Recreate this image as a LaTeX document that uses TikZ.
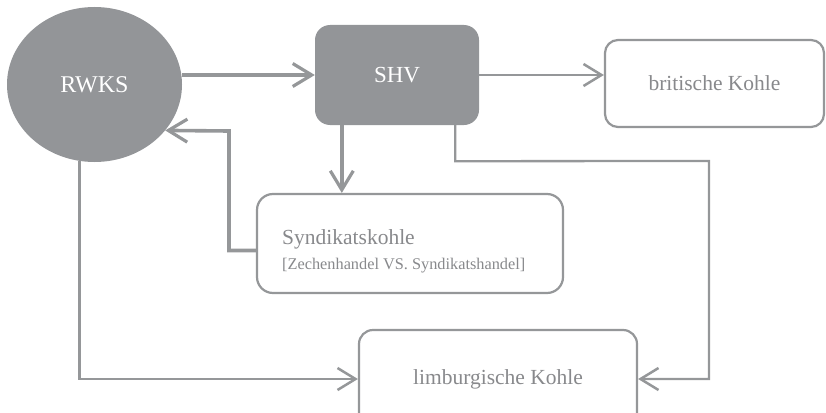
\documentclass[tikz,border=0pt]{standalone}
\usepackage{fontspec}
\setmainfont{Liberation Serif}
\usetikzlibrary{arrows.meta,shapes.geometric,calc}
\definecolor{gfill}{HTML}{939598}
\definecolor{gline}{HTML}{959799}
\definecolor{gtext}{HTML}{88898C}
\tikzset{
  darkell/.style={ellipse,fill=gfill,draw=none,minimum width=175pt,minimum height=155pt,inner sep=0pt,text=white,font=\fontsize{24}{28}\selectfont},
  darkbox/.style={rectangle,rounded corners=15pt,fill=gfill,draw=none,inner sep=0pt,text=white,font=\fontsize{23}{27}\selectfont},
  whitebox/.style={rectangle,rounded corners=14pt,draw=gline,line width=2.2pt,fill=white,inner sep=0pt,text=gtext,font=\fontsize{21.5}{25}\selectfont},
  thick conn/.style={draw=gline,line width=3.6pt,-{Straight Barb[length=19pt,width=23pt,line width=3.2pt]}},
  thin conn/.style={draw=gline,line width=2.3pt,-{Straight Barb[length=18pt,width=22pt,line width=2.5pt]}},
  plaintext/.style={inner sep=0pt,text=gtext}
}
\begin{document}
\begin{tikzpicture}[x=1pt,y=-1pt]
\useasboundingbox (0,0) rectangle (826,412);
\node[darkell] (rwks) at (94.5,84.5) {RWKS};
\node[darkbox,minimum width=164pt,minimum height=100pt] (shv) at (397,75) {SHV};
\node[whitebox,minimum width=219pt,minimum height=87pt,rounded corners=13pt] (brit) at (714.5,83.5) {britische Kohle};
\node[whitebox,minimum width=306pt,minimum height=99pt,rounded corners=16pt] (synd) at (410,243.5) {};
\node[plaintext,anchor=base west,font=\fontsize{21.5}{25}\selectfont] (syndA) at (282,244) {Syndikatskohle};
\node[plaintext,anchor=base west,font=\fontsize{16.3}{19}\selectfont] (syndB) at (282,269) {[Zechenhandel VS.\ Syndikatshandel]};
\node[whitebox,minimum width=278pt,minimum height=98pt] (limb) at (498,379) {limburgische Kohle};
% connectors
\draw[thick conn] (shv.west -| rwks.east) -- (shv.west);
\draw[thin conn,line width=2.6pt] (shv.east) -- (shv.east -| brit.west);
\coordinate (shvA) at ($(shv.south west)+(27,0)$);
\draw[thick conn] (shvA) -- (shvA |- synd.north);
\coordinate (syndL) at ($(synd.west)+(0,7)$);
\draw[thick conn] (syndL) -- (229,250.5) -- (229,131) -- (rwks.-33.6);
\draw[thin conn] (rwks.-101.5) -- (rwks.-101.5 |- limb.west) -- (limb.west);
\coordinate (shvB) at ($(shv.south east)+(-24,0)$);
\draw[thin conn] (shvB) -- ($(shvB)+(0,36)$) -- (709,161) -- (709,379) -- (limb.east);
\end{tikzpicture}
\end{document}
